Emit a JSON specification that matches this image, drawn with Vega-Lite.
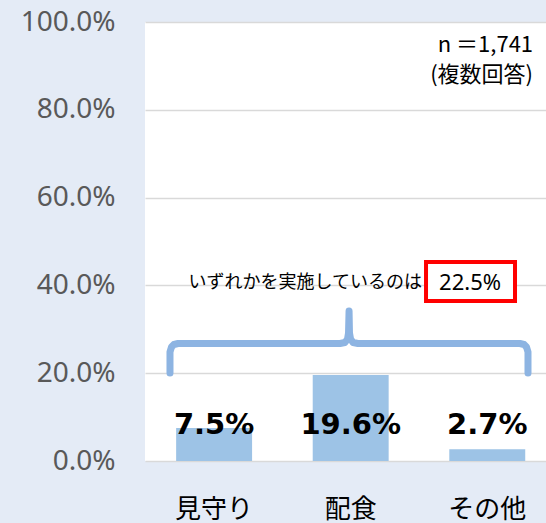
{
  "$schema": "https://vega.github.io/schema/vega-lite/v6.json",
  "width": 401,
  "height": 439,
  "autosize": {"type": "none"},
  "padding": {"left": 145, "top": 22, "right": 0, "bottom": 62},
  "background": "#e4ebf6",
  "config": {"view": {"fill": "white", "stroke": null}},
  "datasets": {
    "bars": [
      {"cat": "見守り", "value": 7.5, "label": "7.5%"},
      {"cat": "配食", "value": 19.6, "label": "19.6%"},
      {"cat": "その他", "value": 2.7, "label": "2.7%"}
    ],
    "brace": [
      {"o": 1, "bx": -0.322, "by": 20.05},
      {"o": 2, "bx": -0.322, "by": 24.83},
      {"o": 3, "bx": -0.311, "by": 25.97},
      {"o": 4, "bx": -0.293, "by": 26.54},
      {"o": 5, "bx": -0.263, "by": 26.77},
      {"o": 6, "bx": 0.922, "by": 26.77},
      {"o": 7, "bx": 0.958, "by": 26.99},
      {"o": 8, "bx": 0.977, "by": 27.79},
      {"o": 9, "bx": 0.984, "by": 29.16},
      {"o": 10, "bx": 0.988, "by": 34.17},
      {"o": 11, "bx": 0.991, "by": 29.16},
      {"o": 12, "bx": 0.999, "by": 27.79},
      {"o": 13, "bx": 1.017, "by": 26.99},
      {"o": 14, "bx": 1.053, "by": 26.77},
      {"o": 15, "bx": 2.238, "by": 26.77},
      {"o": 16, "bx": 2.268, "by": 26.54},
      {"o": 17, "bx": 2.286, "by": 25.97},
      {"o": 18, "bx": 2.297, "by": 24.83},
      {"o": 19, "bx": 2.297, "by": 20.05}
    ],
    "box": [{"x1": 1.551, "x2": 2.202, "y1": 36.45, "y2": 45.33}],
    "lead": [{"tx": 1.522, "ty": 40.55, "t": "いずれかを実施しているのは"}],
    "pct": [{"tx": 1.873, "ty": 40.55, "t": "22.5%"}],
    "nlab": [
      {"tx": 2.334, "ty": 94.8, "t": "n ＝1,741"},
      {"tx": 2.334, "ty": 87.9, "t": "(複数回答)"}
    ]
  },
  "resolve": {"scale": {"x": "independent"}},
  "layer": [
    {
      "data": {"name": "bars"},
      "encoding": {
        "x": {
          "field": "cat", "type": "nominal", "sort": null,
          "scale": {"paddingInner": 0.444, "paddingOuter": 0.19, "align": 0.6},
          "axis": {"title": null, "orient": "bottom", "domain": false, "ticks": false, "labelAngle": 0,
                   "labelFont": "Noto Sans CJK JP", "labelFontSize": 26, "labelColor": "#000000",
                   "labelPadding": 35, "labelBaseline": "top"}
        }
      },
      "layer": [
        {
          "mark": {"type": "bar", "color": "#9dc3e6"},
          "encoding": {
            "y": {
              "field": "value", "type": "quantitative",
              "scale": {"domain": [0, 100], "nice": false},
              "axis": {"title": null, "values": [0, 20, 40, 60, 80, 100], "domain": false, "ticks": false,
                       "grid": true, "gridColor": "#d9d9d9", "gridWidth": 1.5,
                       "labelExpr": "format(datum.value, '.1f') + '%'",
                       "labelFont": "Noto Sans", "labelFontSize": 28, "labelColor": "#595959", "labelPadding": 30}
            }
          }
        },
        {
          "mark": {"type": "text", "font": "DejaVu Sans", "fontWeight": "bold", "fontSize": 29, "color": "#000000", "baseline": "middle", "align": "center"},
          "encoding": {
            "y": {"datum": 8.2, "type": "quantitative"},
            "text": {"field": "label"}
          }
        }
      ]
    },
    {
      "data": {"name": "brace"},
      "mark": {"type": "line", "color": "#8db4e2", "strokeWidth": 7, "strokeCap": "round", "strokeJoin": "round"},
      "encoding": {
        "x": {"field": "bx", "type": "quantitative", "scale": {"domain": [-0.5048, 2.4287], "nice": false, "zero": false}, "axis": null},
        "y": {"field": "by", "type": "quantitative"},
        "order": {"field": "o"}
      }
    },
    {
      "data": {"name": "box"},
      "mark": {"type": "rect", "fill": "white", "stroke": "#ff0000", "strokeWidth": 4},
      "encoding": {
        "x": {"field": "x1", "type": "quantitative", "scale": {"domain": [-0.5048, 2.4287], "nice": false, "zero": false}, "axis": null},
        "x2": {"field": "x2"},
        "y": {"field": "y1", "type": "quantitative"},
        "y2": {"field": "y2"}
      }
    },
    {
      "data": {"name": "lead"},
      "mark": {"type": "text", "font": "Noto Sans CJK JP", "fontSize": 18, "color": "#000000", "baseline": "middle", "align": "right"},
      "encoding": {
        "x": {"field": "tx", "type": "quantitative", "scale": {"domain": [-0.5048, 2.4287], "nice": false, "zero": false}, "axis": null},
        "y": {"field": "ty", "type": "quantitative"},
        "text": {"field": "t"}
      }
    },
    {
      "data": {"name": "pct"},
      "mark": {"type": "text", "font": "Noto Sans", "fontSize": 22, "color": "#000000", "baseline": "middle", "align": "center"},
      "encoding": {
        "x": {"field": "tx", "type": "quantitative", "scale": {"domain": [-0.5048, 2.4287], "nice": false, "zero": false}, "axis": null},
        "y": {"field": "ty", "type": "quantitative"},
        "text": {"field": "t"}
      }
    },
    {
      "data": {"name": "nlab"},
      "mark": {"type": "text", "font": "Noto Sans CJK JP", "fontSize": 22, "color": "#000000", "baseline": "middle", "align": "right"},
      "encoding": {
        "x": {"field": "tx", "type": "quantitative", "scale": {"domain": [-0.5048, 2.4287], "nice": false, "zero": false}, "axis": null},
        "y": {"field": "ty", "type": "quantitative"},
        "text": {"field": "t"}
      }
    }
  ]
}
